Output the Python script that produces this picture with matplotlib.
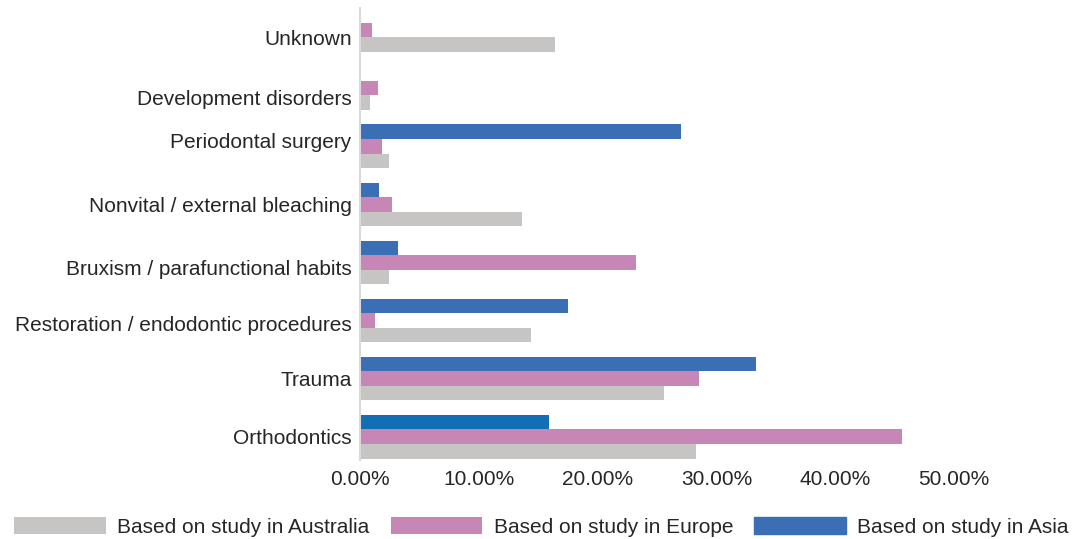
import numpy as np
import matplotlib.pyplot as plt
import matplotlib.transforms as mtransforms
from matplotlib.ticker import FuncFormatter

plt.rcParams['font.family'] = ['Liberation Sans', 'DejaVu Sans']

# Categories, bottom to top
categories = ['Orthodontics', 'Trauma', 'Restoration / endodontic procedures',
              'Bruxism / parafunctional habits', 'Nonvital / external bleaching',
              'Periodontal surgery', 'Development disorders', 'Unknown']

# Values in percent
australia = [28.3, 25.6, 14.4, 2.4, 13.6, 2.4, 0.8, 16.4]
europe = [45.6, 28.5, 1.3, 23.2, 2.7, 1.85, 1.5, 1.0]
asia = [15.9, 33.3, 17.5, 3.2, 1.6, 27.0, 0.0, 0.0]

series_names = ['Based on study in Australia', 'Based on study in Europe', 'Based on study in Asia']

# small vertical nudges of the category labels (pixels, down), as in the original
label_nudge = [0, 0, 3, 5, 0, -6, 9, 7]

c_aus = '#c6c5c3'
c_eur = '#c686b6'
c_asia = '#3a6eb5'
asia_colors = ['#126eb5'] + [c_asia] * 7
text_color = '#262626'

fig = plt.figure(figsize=(10.83, 5.39), dpi=100)
ax = fig.add_axes([360 / 1083, 1 - 460 / 539, (954 - 360) / 1083, (460 - 8) / 539])

y = np.arange(len(categories))
h = 0.25

ax.barh(y - h, australia, height=h, color=c_aus, label=series_names[0])
ax.barh(y, europe, height=h, color=c_eur, label=series_names[1])
ax.barh(y + h, asia, height=h, color=asia_colors, label=series_names[2])

ax.set_xlim(0, 50)
ax.set_ylim(-0.4, 7.38)
ax.set_xticks(np.arange(0, 51, 10))
ax.xaxis.set_major_formatter(FuncFormatter(lambda v, p: f'{v:.2f}%'))
ax.set_yticks(y)
ax.set_yticklabels(categories)

ax.tick_params(axis='both', length=0, labelsize=15, colors=text_color)
ax.tick_params(axis='x', pad=7)
ax.tick_params(axis='y', pad=6)

for lab, dy in zip(ax.get_yticklabels(), label_nudge):
    off = mtransforms.ScaledTranslation(0, -dy / 100, fig.dpi_scale_trans)
    lab.set_transform(lab.get_transform() + off)

for s in ['top', 'right', 'bottom']:
    ax.spines[s].set_visible(False)
ax.spines['left'].set_color('#d9d9d9')
ax.spines['left'].set_linewidth(1.5)

handles, labels = ax.get_legend_handles_labels()
leg = fig.legend(handles, labels, loc='center', bbox_to_anchor=(0.5, 1 - 527 / 539),
                 ncol=3, frameon=False, fontsize=15, handlelength=4.4, handleheight=0.85,
                 handletextpad=0.55, columnspacing=1.0, borderpad=0, borderaxespad=0)
for t in leg.get_texts():
    t.set_color(text_color)
# the first Asia bar has a different blue; keep legend patch in the standard blue
leg.legend_handles[2].set_color(c_asia)

fig.savefig('out.png', dpi=100)
